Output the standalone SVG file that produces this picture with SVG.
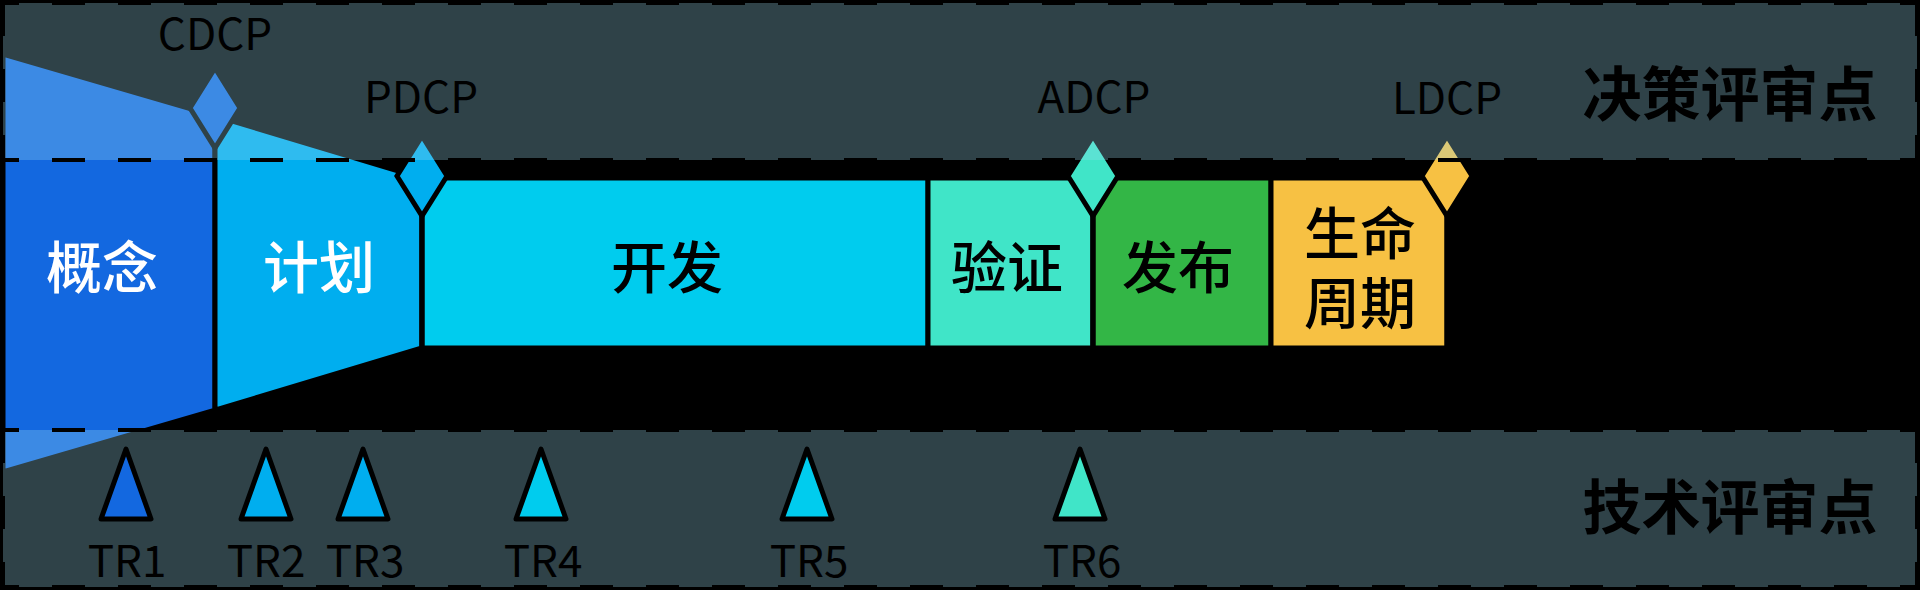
<svg xmlns="http://www.w3.org/2000/svg" width="1920" height="590" viewBox="0 0 1920 590">
<style>
.blk{stroke:#000;stroke-width:5;stroke-linejoin:miter}
.tri{stroke:#000;stroke-width:5;stroke-linejoin:round}
.band{fill:#9ddced;fill-opacity:0.3}
.dash{stroke:#000;stroke-width:4;stroke-dasharray:33 33;fill:none}
.lbl{font-family:"Noto Sans CJK SC","Noto Sans",sans-serif;font-size:44px;fill:#000;text-anchor:middle}
.big{font-family:"Noto Sans CJK SC","Noto Sans",sans-serif;font-size:56px;font-weight:500;text-anchor:middle}
.head{font-family:"Noto Sans CJK SC","Noto Sans",sans-serif;font-size:59px;font-weight:700;fill:#000;text-anchor:middle}
.c1{fill:#1368e0}.c2{fill:#00aeef}.c3{fill:#00ccee}.c4{fill:#40e5c8}.c5{fill:#33b646}.c6{fill:#f7c143}
</style>
<rect x="0" y="0" width="1920" height="590" fill="#000"/>
<g id="phases">
<g id="concept"><polygon class="blk c1" points="3,54 215,115.8 215,410.2 3,472"/></g>
<g id="plan"><polygon class="blk c2" points="215,115.8 422,178 422,348 215,410.2"/></g>
<g id="develop"><rect class="blk c3" x="422" y="178" width="506" height="170"/></g>
<g id="verify"><rect class="blk c4" x="928" y="178" width="165" height="170"/></g>
<g id="release"><rect class="blk c5" x="1093" y="178" width="178" height="170"/></g>
<g id="lifecycle"><rect class="blk c6" x="1271" y="178" width="176" height="170"/></g>
</g>
<g id="decision-points">
<g id="cdcp"><polygon class="blk c1" points="215,68 240,108 215,148 190,108"/></g>
<g id="pdcp"><polygon class="blk c2" points="422,136 447,176 422,216 397,176"/></g>
<g id="adcp"><polygon class="blk c4" points="1093,136 1118,176 1093,216 1068,176"/></g>
<g id="ldcp"><polygon class="blk c6" points="1447,136 1472,176 1447,216 1422,176"/></g>
</g>
<g id="connectors">
<line class="blk" x1="422" y1="214" x2="422" y2="348"/>
<line class="blk" x1="1093" y1="214" x2="1093" y2="348"/>
<line class="blk" x1="1447" y1="214" x2="1447" y2="348"/>
</g>
<g id="bands">
<rect class="band" x="3" y="3" width="1914" height="157"/>
<rect class="band" x="3" y="430" width="1914" height="157"/>
<line class="dash" x1="3" y1="3" x2="1917" y2="3" stroke-dashoffset="17"/>
<line class="dash" x1="3" y1="160" x2="1917" y2="160" stroke-dashoffset="17"/>
<line class="dash" x1="3" y1="430" x2="1917" y2="430" stroke-dashoffset="17"/>
<line class="dash" x1="3" y1="587" x2="1917" y2="587" stroke-dashoffset="17"/>
<line class="dash" x1="3" y1="3" x2="3" y2="160"/>
<line class="dash" x1="1917" y1="3" x2="1917" y2="160"/>
<line class="dash" x1="3" y1="430" x2="3" y2="587"/>
<line class="dash" x1="1917" y1="430" x2="1917" y2="587"/>
</g>
<g id="tech-reviews">
<g id="tr1"><polygon class="tri c1" points="126,449 151,519 101,519"/><text class="lbl" x="127" y="577">TR1</text></g>
<g id="tr2"><polygon class="tri c2" points="266,449 291,519 241,519"/><text class="lbl" x="266" y="577">TR2</text></g>
<g id="tr3"><polygon class="tri c2" points="363,449 388,519 338,519"/><text class="lbl" x="365" y="577">TR3</text></g>
<g id="tr4"><polygon class="tri c3" points="541,449 566,519 516,519"/><text class="lbl" x="543" y="577">TR4</text></g>
<g id="tr5"><polygon class="tri c3" points="807,449 832,519 782,519"/><text class="lbl" x="809" y="577">TR5</text></g>
<g id="tr6"><polygon class="tri c4" points="1080,449 1105,519 1055,519"/><text class="lbl" x="1082" y="577">TR6</text></g>
</g>
<g id="labels">
<text class="lbl" x="215" y="50">CDCP</text>
<text class="lbl" x="421" y="113">PDCP</text>
<text class="lbl" x="1094" y="113">ADCP</text>
<text class="lbl" x="1447" y="114">LDCP</text>
<text class="big" x="102" y="288" fill="#fff">概念</text>
<text class="big" x="319" y="288" fill="#fff">计划</text>
<text class="big" x="667" y="288" fill="#000">开发</text>
<text class="big" x="1007" y="288" fill="#000">验证</text>
<text class="big" x="1178" y="288" fill="#000">发布</text>
<text class="big" x="1360" y="254" fill="#000">生命</text>
<text class="big" x="1360" y="324" fill="#000">周期</text>
<text class="head" x="1730" y="116">决策评审点</text>
<text class="head" x="1730" y="529">技术评审点</text>
</g>
</svg>
